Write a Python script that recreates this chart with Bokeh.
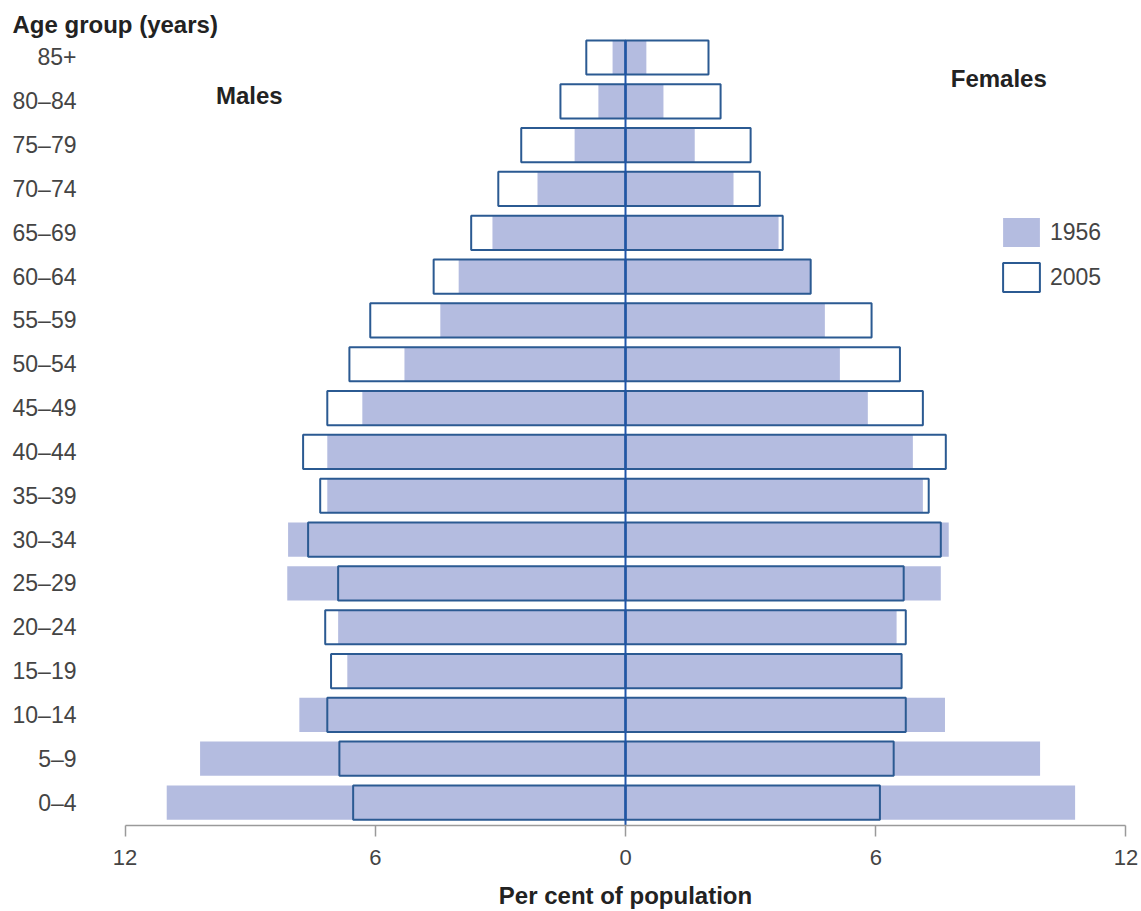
from bokeh.plotting import figure
from bokeh.models import Range1d, FixedTicker, Label, Legend, LegendItem, ColumnDataSource
from bokeh.embed import file_html
from bokeh.resources import INLINE

age_groups = ["0–4", "5–9", "10–14", "15–19", "20–24", "25–29", "30–34", "35–39",
              "40–44", "45–49", "50–54", "55–59", "60–64", "65–69", "70–74",
              "75–79", "80–84", "85+"]
males_1956 = [11.0, 10.2, 7.82, 6.67, 6.89, 8.11, 8.09, 7.15, 7.15, 6.31, 5.3, 4.44,
              4.0, 3.19, 2.11, 1.22, 0.65, 0.31]
males_2005 = [6.53, 6.86, 7.15, 7.06, 7.2, 6.89, 7.61, 7.32, 7.73, 7.15, 6.62, 6.12,
              4.6, 3.7, 3.05, 2.5, 1.56, 0.94]
females_1956 = [10.78, 9.94, 7.66, 6.62, 6.5, 7.56, 7.75, 7.13, 6.89, 5.81, 5.14, 4.78,
                4.44, 3.67, 2.59, 1.66, 0.91, 0.5]
females_2005 = [6.1, 6.43, 6.72, 6.62, 6.72, 6.67, 7.56, 7.27, 7.68, 7.13, 6.58, 5.9,
                4.44, 3.77, 3.22, 3.0, 2.28, 1.99]
x_ticks = [-12, -6, 0, 6, 12]
x_tick_labels = ["12", "6", "0", "6", "12"]

FILL = "#b4bce0"
EDGE = "#2b5a92"
FONT = "Liberation Sans"

ypos = list(range(len(age_groups)))
src = ColumnDataSource(dict(
    y=ypos,
    m56=[-v for v in males_1956], m05=[-v for v in males_2005],
    f56=females_1956, f05=females_2005, zero=[0] * len(ypos),
))

p = figure(width=1141, height=911, output_backend="svg", toolbar_location=None,
           x_range=Range1d(-12.3, 12.3), y_range=Range1d(-0.524, 17.433),
           min_border_left=112, min_border_right=3, min_border_top=38, min_border_bottom=85,
           title="Age group (years)")
p.outline_line_color = None
p.xgrid.visible = False
p.ygrid.visible = False
p.background_fill_color = "white"

p.title.align = "left"
p.title.offset = -100
p.title.standoff = 1
p.title.text_font = FONT
p.title.text_font_size = "24px"
p.title.text_font_style = "bold"
p.title.text_color = "#222222"

H = 0.78
r56 = p.hbar(y="y", left="m56", right="zero", height=H, source=src,
             fill_color=FILL, line_color=None)
p.hbar(y="y", left="zero", right="f56", height=H, source=src,
       fill_color=FILL, line_color=None)
r05 = p.hbar(y="y", left="m05", right="zero", height=H, source=src,
             fill_color=None, line_color=EDGE, line_width=2)
p.hbar(y="y", left="zero", right="f05", height=H, source=src,
       fill_color=None, line_color=EDGE, line_width=2)

p.segment(x0=[0], y0=[-0.524], x1=[0], y1=[len(age_groups) - 1 + H / 2],
          line_color="#1f55a8", line_width=2)

# x axis
xa = p.xaxis[0]
xa.ticker = FixedTicker(ticks=x_ticks)
xa.major_label_overrides = {t: l for t, l in zip(x_ticks, x_tick_labels)}
xa.bounds = (-12, 12)
xa.axis_line_color = "#9a9a9a"
xa.axis_line_width = 1.5
xa.major_tick_line_color = "#9a9a9a"
xa.major_tick_line_width = 1.5
xa.major_tick_out = 11
xa.major_tick_in = 0
xa.minor_tick_line_color = None
xa.major_label_standoff = 13
xa.major_label_text_font = FONT
xa.major_label_text_font_size = "22px"
xa.major_label_text_color = "#444444"
xa.axis_label = "Per cent of population"
xa.axis_label_standoff = 14
xa.axis_label_text_font = FONT
xa.axis_label_text_font_size = "24px"
xa.axis_label_text_font_style = "bold"
xa.axis_label_text_color = "#222222"

# y axis
ya = p.yaxis[0]
ya.ticker = FixedTicker(ticks=ypos)
ya.major_label_overrides = {i: g for i, g in zip(ypos, age_groups)}
ya.axis_line_color = None
ya.major_tick_line_color = None
ya.minor_tick_line_color = None
ya.major_label_standoff = 30
ya.major_label_text_font = FONT
ya.major_label_text_font_size = "23px"
ya.major_label_text_color = "#444444"

def lab(text, x, y, align="left", size="24px"):
    p.add_layout(Label(x=x, y=y, text=text, text_align=align, text_baseline="middle",
                       text_font=FONT, text_font_size=size, text_font_style="bold",
                       text_color="#222222"))

lab("Males", -9.02, 16.13, align="center")
lab("Females", 8.95, 16.52, align="center")

legend = Legend(items=[LegendItem(label="1956", renderers=[r56]),
                       LegendItem(label="2005", renderers=[r05])],
                location=(886, 530), orientation="vertical",
                glyph_width=46, glyph_height=36, spacing=9, padding=0, margin=0,
                label_standoff=6, border_line_color=None, background_fill_alpha=0,
                label_text_font=FONT, label_text_font_size="23px",
                label_text_color="#444444", label_height=36)
p.add_layout(legend)

open("out.html", "w").write(file_html(p, INLINE))
